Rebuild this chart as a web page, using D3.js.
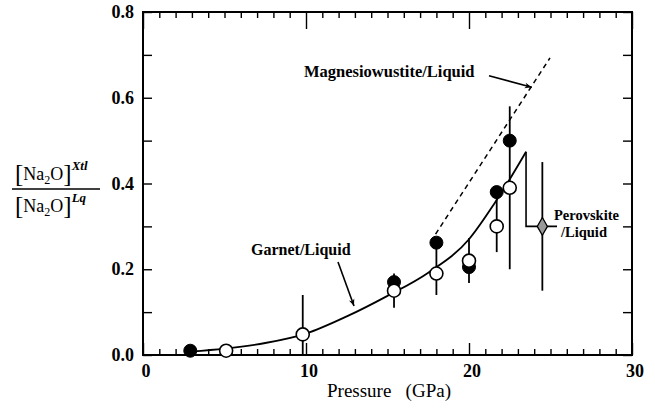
<!DOCTYPE html>
<html><head><meta charset="utf-8">
<script src="https://cdn.jsdelivr.net/npm/d3@7"></script>
<style>body{margin:0;background:#fff}svg{display:block}</style>
</head><body><svg id="c" width="655" height="418"></svg>
<script>
// ---- data ----
const filledP = [2.9, 15.4, 18.0, 20.0, 21.7, 22.5];
const filledV = [0.010, 0.170, 0.262, 0.205, 0.380, 0.500];
const openP = [5.1, 9.8, 15.4, 18.0, 20.0, 21.7, 22.5];
const openV = [0.010, 0.048, 0.150, 0.190, 0.220, 0.300, 0.390];
const errP = [9.8, 15.4, 18.0, 20.0, 21.7, 22.5, 24.5];
const errLo = [0.0, 0.11, 0.14, 0.168, 0.24, 0.20, 0.15];
const errHi = [0.14, 0.19, 0.26, 0.273, 0.385, 0.58, 0.45];
const perovP = [24.5];
const perovV = [0.30];
const garnetP = [2.9, 5, 7.5, 10, 12.5, 15, 17.5, 20, 21.5, 22.5, 23.5];
const garnetV = [0.008, 0.015, 0.028, 0.050, 0.090, 0.138, 0.192, 0.27, 0.35, 0.41, 0.474];
const leaderP = [23.5, 23.5, 25.4];
const leaderV = [0.474, 0.30, 0.30];
const mwP = [17.95, 24.97];
const mwV = [0.282, 0.693];
const xTicks = [0, 10, 20, 30];
const yTicks = [0.0, 0.2, 0.4, 0.6, 0.8];

const FONT = "'Liberation Serif', 'Times New Roman', Times, 'DejaVu Serif', serif";
const svg = d3.select("#c");
const L = 143, R = 632, T = 12, B = 355;
const x = d3.scaleLinear().domain([0, 30]).range([L, R]);
const y = d3.scaleLinear().domain([0, 0.8]).range([B, T]);

svg.append("defs").append("marker").attr("id", "ah").attr("viewBox", "0 0 10 10")
  .attr("refX", 10).attr("refY", 5).attr("markerWidth", 10).attr("markerHeight", 7)
  .attr("markerUnits", "userSpaceOnUse").attr("orient", "auto")
  .append("path").attr("d", "M0,1 L10,5 L0,9 L3,5 Z").attr("fill", "#000");

// axes (inner ticks)
const g = svg.append("g");
g.append("g").attr("transform", `translate(0,${B})`)
  .call(d3.axisBottom(x).tickValues(d3.range(0, 31)).tickSize(0).tickFormat(""))
  .call(s => s.select(".domain").remove())
  .call(s => s.selectAll(".tick line").attr("y2", d => d % 10 === 0 ? -12 : -6).attr("stroke-width", 1.4));
g.append("g").attr("transform", `translate(0,${T})`)
  .call(d3.axisTop(x).tickValues(d3.range(0, 31)).tickSize(0).tickFormat(""))
  .call(s => s.select(".domain").remove())
  .call(s => s.selectAll(".tick line").attr("y2", d => d % 10 === 0 ? 17 : 6).attr("stroke-width", 1.4));
g.append("g").attr("transform", `translate(${L},0)`)
  .call(d3.axisLeft(y).tickValues(d3.range(0, 9).map(i => i / 10)).tickSize(-9).tickFormat(""))
  .call(s => s.select(".domain").remove())
  .call(s => s.selectAll(".tick line").attr("stroke-width", 1.4));
g.append("g").attr("transform", `translate(${R},0)`)
  .call(d3.axisRight(y).tickValues(d3.range(0, 9).map(i => i / 10)).tickSize(-9).tickFormat(""))
  .call(s => s.select(".domain").remove())
  .call(s => s.selectAll(".tick line").attr("stroke-width", 1.4));
svg.append("rect").attr("x", L).attr("y", T).attr("width", R - L).attr("height", B - T)
  .attr("fill", "none").attr("stroke", "#000").attr("stroke-width", 2);

// tick labels
svg.selectAll(".xl").data(xTicks).join("text").attr("font-family", FONT)
  .attr("x", d => x(d) + 3).attr("y", 377).attr("text-anchor", "middle")
  .attr("font-weight", "bold").attr("font-size", 18).text(d => d);
svg.selectAll(".yl").data(yTicks).join("text").attr("font-family", FONT)
  .attr("x", 134).attr("y", d => y(d) + 6).attr("text-anchor", "end")
  .attr("font-weight", "bold").attr("font-size", 18).text(d => d.toFixed(1));
svg.append("text").attr("font-family", FONT).attr("x", 389).attr("y", 397).attr("text-anchor", "middle")
  .attr("font-size", 19).attr("xml:space", "preserve").text("Pressure   (GPa)");

// y label fraction
function frac(yb, sup) {
  const t = svg.append("text").attr("font-family", FONT).attr("x", 15).attr("y", yb).attr("font-size", 18);
  t.append("tspan").attr("font-size", 25).attr("dy", 2).text("[");
  t.append("tspan").attr("dy", -2).text("Na");
  t.append("tspan").attr("font-size", 12).attr("dy", 4).text("2");
  t.append("tspan").attr("dy", -4).text("O");
  t.append("tspan").attr("font-size", 25).attr("dy", 2).text("]");
  t.append("tspan").attr("font-size", 13).attr("font-style", "italic").attr("font-weight", "bold").attr("dy", -12).text(sup);
}
frac(180, "Xtl");
frac(212, "Lq");
svg.append("line").attr("x1", 12).attr("x2", 100).attr("y1", 189).attr("y2", 189).attr("stroke", "#000").attr("stroke-width", 1.3);

// curves
svg.append("path").datum(garnetP.map((p, i) => [p, garnetV[i]]))
  .attr("d", d3.line().x(d => x(d[0])).y(d => y(d[1])).curve(d3.curveMonotoneX))
  .attr("fill", "none").attr("stroke", "#000").attr("stroke-width", 1.8);
svg.append("path").datum(leaderP.map((p, i) => [p, leaderV[i]]))
  .attr("d", d3.line().x(d => x(d[0])).y(d => y(d[1]))).attr("fill", "none").attr("stroke", "#000").attr("stroke-width", 1.6);
svg.append("path").datum(mwP.map((p, i) => [p, mwV[i]]))
  .attr("d", d3.line().x(d => x(d[0])).y(d => y(d[1]))).attr("fill", "none").attr("stroke", "#000")
  .attr("stroke-width", 1.5).attr("stroke-dasharray", "5,4");

// error bars
svg.selectAll(".eb").data(errP).join("line")
  .attr("x1", d => x(d)).attr("x2", d => x(d))
  .attr("y1", (d, i) => y(errLo[i])).attr("y2", (d, i) => y(errHi[i]))
  .attr("stroke", "#000").attr("stroke-width", 1.8);

// points
svg.selectAll(".fp").data(filledP).join("circle")
  .attr("cx", d => x(d)).attr("cy", (d, i) => y(filledV[i])).attr("r", 6.5)
  .attr("fill", "#000").attr("stroke", "#000");
svg.selectAll(".op").data(openP).join("circle")
  .attr("cx", d => x(d)).attr("cy", (d, i) => y(openV[i])).attr("r", 6.5)
  .attr("fill", "#fff").attr("stroke", "#000").attr("stroke-width", 1.6);
svg.selectAll(".pv").data(perovP).join("path")
  .attr("transform", (d, i) => `translate(${x(d)},${y(perovV[i])})`)
  .attr("d", d3.symbol(d3.symbolDiamond, 90)).attr("fill", "#999").attr("stroke", "#000").attr("stroke-width", 1.3);

// annotations
function ann(t, px, py, fs) {
  svg.append("text").attr("font-family", FONT).attr("x", px).attr("y", py)
    .attr("font-weight", "bold").attr("font-size", fs).text(t);
}
ann("Magnesiowustite/Liquid", 304, 77, 16.5);
ann("Garnet/Liquid", 251, 255, 16);
ann("Perovskite", 554, 220, 14.5);
ann("/Liquid", 561, 237, 14.5);
svg.append("line").attr("x1", 489).attr("y1", 75.7).attr("x2", 531.7).attr("y2", 87.3)
  .attr("stroke", "#000").attr("stroke-width", 1.6).attr("marker-end", "url(#ah)");
svg.append("line").attr("x1", 338).attr("y1", 262).attr("x2", 354).attr("y2", 306)
  .attr("stroke", "#000").attr("stroke-width", 1.6).attr("marker-end", "url(#ah)");
</script></body></html>
